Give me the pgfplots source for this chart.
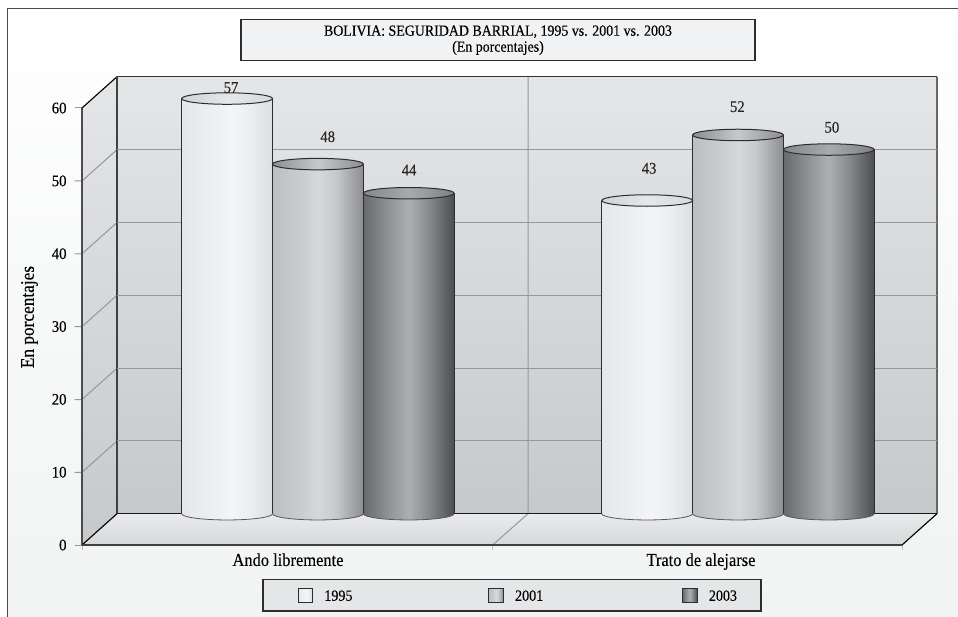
\documentclass[border=0pt]{standalone}
\usepackage{fontspec}
\setmainfont[FakeStretch=0.9,FakeBold=0.22]{Liberation Serif}
\usepackage{pgfplots}
\pgfplotsset{compat=1.18}

% colours
\definecolor{edge}{RGB}{45,45,48}
\definecolor{gridc}{RGB}{150,151,153}
\definecolor{wallT}{RGB}{229,230,232}
\definecolor{wallB}{RGB}{199,200,202}
\definecolor{floorT}{RGB}{234,235,237}
\definecolor{floorB}{RGB}{214,215,217}
\definecolor{bgB}{RGB}{242,244,244}
\definecolor{boxT}{RGB}{241,242,244}
\definecolor{boxL}{RGB}{229,230,232}

% cylinder body shadings: the path's width maps to 25bp..75bp
\pgfdeclarehorizontalshading{bodyA}{100bp}{
  rgb(0bp)=(.90,.905,.915); rgb(25bp)=(.90,.905,.915); rgb(42bp)=(.93,.935,.94);
  rgb(52bp)=(.955,.96,.965); rgb(62bp)=(.93,.935,.94); rgb(75bp)=(.865,.87,.88); rgb(100bp)=(.865,.87,.88)}
\pgfdeclarehorizontalshading{bodyB}{100bp}{
  rgb(0bp)=(.74,.745,.76); rgb(25bp)=(.74,.745,.76); rgb(42bp)=(.80,.805,.815);
  rgb(50bp)=(.84,.845,.855); rgb(60bp)=(.78,.785,.80); rgb(75bp)=(.55,.555,.57); rgb(100bp)=(.55,.555,.57)}
\pgfdeclarehorizontalshading{bodyC}{100bp}{
  rgb(0bp)=(.41,.415,.43); rgb(25bp)=(.41,.415,.43); rgb(40bp)=(.58,.585,.60);
  rgb(50bp)=(.68,.685,.70); rgb(60bp)=(.55,.555,.57); rgb(75bp)=(.30,.305,.32); rgb(100bp)=(.30,.305,.32)}
% top faces
\pgfdeclarehorizontalshading{capA}{100bp}{
  rgb(0bp)=(.82,.825,.84); rgb(25bp)=(.82,.825,.84); rgb(50bp)=(.90,.905,.91); rgb(75bp)=(.85,.855,.865); rgb(100bp)=(.85,.855,.865)}
\pgfdeclarehorizontalshading{capB}{100bp}{
  rgb(0bp)=(.55,.555,.57); rgb(25bp)=(.55,.555,.57); rgb(50bp)=(.78,.785,.80); rgb(75bp)=(.55,.555,.57); rgb(100bp)=(.55,.555,.57)}
\pgfdeclarehorizontalshading{capC}{100bp}{
  rgb(0bp)=(.52,.525,.54); rgb(25bp)=(.52,.525,.54); rgb(50bp)=(.66,.665,.68); rgb(75bp)=(.50,.505,.52); rgb(100bp)=(.50,.505,.52)}

% rounded foot of a cylinder, hanging below its anchor
\newcommand{\cylfootpic}[1]{%
  \begin{tikzpicture}
    \path[use as bounding box,draw=none,fill=none] (-34.05pt,-4.7pt) rectangle (34.05pt,0pt);
    \path[draw=none,shade,shading=body#1] (-34.05pt,0pt) arc [start angle=180,end angle=360,x radius=34.05pt,y radius=4.7pt] -- cycle;
    \path[draw=black!65,line width=.6pt] (-34.05pt,0pt) arc [start angle=180,end angle=360,x radius=34.05pt,y radius=4.7pt];
  \end{tikzpicture}}
% top face of a cylinder, centred on its anchor
\newcommand{\cyltoppic}[1]{%
  \begin{tikzpicture}
    \path[use as bounding box,draw=none,fill=none] (-34.05pt,-4.3pt) rectangle (34.05pt,4.3pt);
    \path[shade,shading=cap#1,draw=edge,line width=.75pt] (0pt,0pt) ellipse [x radius=34.05pt,y radius=4.3pt];
  \end{tikzpicture}}

\pgfplotsset{
  % one cylinder body
  cylbar/.style={ybar,bar width=68.1pt,bar shift=0pt,draw=none,shade,shading=body#1,forget plot},
  % the body that also stands for its year in the legend; #2 pads the key on the left
  cylkey/.style 2 args={ybar,bar width=68.1pt,bar shift=0pt,draw=none,shade,shading=body#1,
    legend image code/.code={\path (-#2,0pt);\path[shade,shading=body#1,draw=edge,line width=.6pt]
      (0pt,-1.4pt) rectangle (10.8pt,9.4pt);}},
  cylfoot/.style={only marks,mark=none,forget plot,nodes near coords={\cylfootpic{#1}},
    nodes near coords style={anchor=north,inner sep=0pt,outer sep=0pt}},
  cyltop/.style={only marks,mark=none,forget plot,nodes near coords={\cyltoppic{#1}},
    nodes near coords style={anchor=center,inner sep=0pt,outer sep=0pt}},
  cylside/.style={ycomb,forget plot,draw=edge,line width=.75pt},
  % value labels, with an offset per point in px
  vallabel/.style={only marks,mark=none,forget plot,
    point meta=explicit symbolic,
    visualization depends on={\thisrow{dx}\as\dxv},
    visualization depends on={\thisrow{dy}\as\dyv},
    nodes near coords,
    nodes near coords style={anchor=center,inner sep=0pt,text=black!85,font=\fontsize{12.2}{12}\selectfont,
      xshift=\dxv*0.75pt,yshift=\dyv*0.75pt}},
}

\begin{document}
\begin{tikzpicture}
\begin{scope}[x=0.75pt,y=-0.75pt]
  \path[use as bounding box] (0,0) rectangle (958,617);
  \fill[white] (0,0) rectangle (958,617);
  % page panel
  \path[top color=white,bottom color=bgB,middle color=white!40!bgB] (7.5,8.5) rectangle (958,617);
  \draw[black!70,line width=1pt] (7.5,617) -- (7.5,8.5) -- (958,8.5);
  % title box
  \node[draw=edge,line width=.85pt,fill=boxT,minimum width=385.5pt,minimum height=31pt,inner sep=0pt,
        align=center,font=\fontsize{11.6}{12}\selectfont] at (498,40.2)
    {BOLIVIA: SEGURIDAD BARRIAL, 1995 vs. 2001 vs. 2003\\(En porcentajes)};
  % chart box: back wall, side wall, floor
  \path[top color=wallT,bottom color=wallB] (117,76.7) rectangle (937,513.7);
  \path[top color=wallT,bottom color=wallB] (82,108) -- (117,76.7) -- (117,513.7) -- (82,545) -- cycle;
  \path[top color=floorT,bottom color=floorB] (117,513.7) -- (937,513.7) -- (902,545) -- (82,545) -- cycle;
  % category divider on wall and floor
  \draw[gridc,line width=.75pt] (528,76.7) -- (528,513.7) -- (492.7,545);
  % side-wall grid lines with their tick stubs
  \foreach \yy in {181,253.8,326.6,399.5,472.3}
    \draw[gridc,line width=.75pt] (74.5,\yy) -- (82,\yy) -- (117,\yy-31.3);
  \draw[gridc,line width=.75pt] (74.5,108) -- (82,108);
  \draw[gridc,line width=.75pt] (74.5,545) -- (82,545);
  \foreach \xx in {82,492.7,902}
    \draw[black!25,line width=.75pt] (\xx,545) -- (\xx,550);
  % box outline
  \draw[black!70,line width=.95pt] (82,545) -- (82,108);
  \draw[black,line width=.85pt] (82,108) -- (117,76.7);
  \draw[black!80,line width=.85pt] (117,76.7) -- (937,76.7);
  \draw[black!60,line width=.95pt] (937,76.7) -- (937,513.7);
  \draw[black!75,line width=.85pt] (117,76.7) -- (117,513.7);
  \draw[black!90,line width=.85pt] (117,513.7) -- (937,513.7);
  \draw[black,line width=.85pt] (82,545) -- (117,513.7);
  \draw[black,line width=.85pt] (902,545) -- (937,513.7);
  \draw[black!75,line width=1.05pt] (82,545) -- (902,545);
\end{scope}

\begin{axis}[
  at={(87.75pt,-385.275pt)},anchor=south west,
  scale only axis,width=615pt,height=327.75pt,
  xmin=0.5217,xmax=2.4738,ymin=0,ymax=60,
  clip=false,
  axis line style={draw=none},
  tick style={draw=none},
  major tick length=0pt,minor tick length=0pt,
  xtick={0.9288,1.9119},
  xticklabels={Ando libremente,Trato de alejarse},
  xticklabel style={anchor=base,inner sep=0pt,yshift=-39.2pt,font=\fontsize{13.7}{14}\selectfont},
  ytick={0,10,...,60},
  minor ytick={10,20,...,50},
  yminorgrids=true,
  minor grid style={gridc,line width=.75pt},
  yticklabel style={anchor=east,inner sep=0pt,xshift=-37.7pt,yshift=-23.5pt,font=\fontsize{12.2}{12}\selectfont},
  /pgf/number format/assume math mode=true,
  ylabel={En porcentajes},
  every axis y label/.style={at={(axis description cs:-0.1067,0.45)},rotate=90,anchor=center,
    inner sep=0pt,font=\fontsize{14.4}{15}\selectfont},
  legend columns=3,
  legend style={
    at={(axis description cs:0.4817,-0.150)},anchor=north,
    draw=edge,line width=.85pt,fill=boxL,
    font=\fontsize{11.7}{12}\selectfont,
    inner xsep=18pt,inner ysep=6pt,
    legend cell align=left,
    nodes={inner sep=0pt,text depth=0pt,anchor=base west},
    column sep=8.7pt,
  },
]
% 1995
\addplot[cylfoot=A] coordinates {(0.7838,0)(1.7838,0)};
\addplot[cylkey={A}{8.25pt}] coordinates {(0.7838,57)};
\addlegendentry{1995\hspace*{93.2pt}}
\addplot[cylbar=A] coordinates {(1.7838,43)};
\addplot[cylside] coordinates {(0.6757,57)(0.8919,57)(1.6757,43)(1.8919,43)};
\addplot[cyltop=A] coordinates {(0.7838,57)(1.7838,43)};
% 2001
\addplot[cylfoot=B] coordinates {(1.0000,0)(2.0000,0)};
\addplot[cylkey={B}{0pt}] coordinates {(1.0000,48)};
\addlegendentry{2001\hspace*{95.5pt}}
\addplot[cylbar=B] coordinates {(2.0000,52)};
\addplot[cylside] coordinates {(0.8919,48)(1.1081,48)(1.8919,52)(2.1081,52)};
\addplot[cyltop=B] coordinates {(1.0000,48)(2.0000,52)};
% 2003
\addplot[cylfoot=C] coordinates {(1.2162,0)(2.2162,0)};
\addplot[cylkey={C}{0pt}] coordinates {(1.2162,44)};
\addlegendentry{2003}
\addplot[cylbar=C] coordinates {(2.2162,50)};
\addplot[cylside] coordinates {(1.1081,44)(1.3243,44)(2.1081,50)(2.3243,50)};
\addplot[cyltop=C] coordinates {(1.2162,44)(2.2162,50)};
% printed values: x, value, label offset in px
\addplot[vallabel] table[x=x,y=y,meta=y] {
x y dx dy
0.7838 57 3.9 10.9
1.7838 43 1.9 32.2
1.0000 48 9.8 27.4
2.0000 52 -0.6 28.3
1.2162 44 0.4 23.2
2.2162 50 3.1 22.2
};
\end{axis}
\end{tikzpicture}
\end{document}
